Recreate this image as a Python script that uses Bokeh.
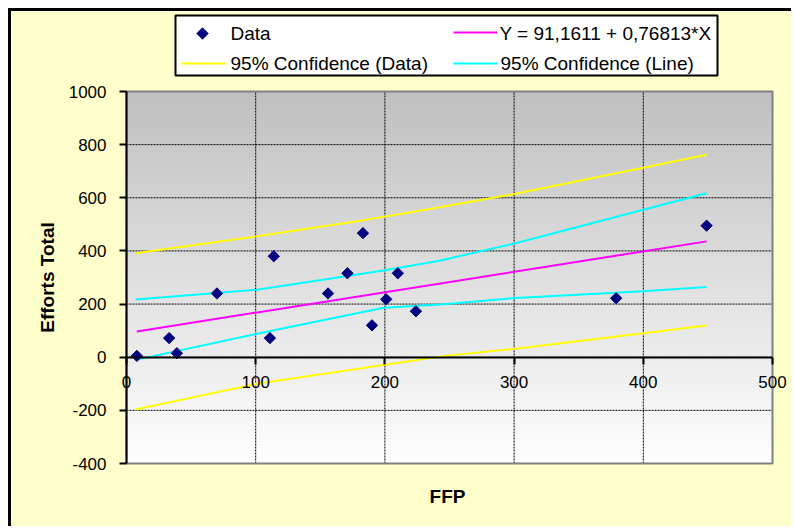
import numpy as np
from bokeh.plotting import figure
from bokeh.models import Range1d, LinearAxis, FixedTicker
from bokeh.core.properties import value
from bokeh.embed import file_html
from bokeh.resources import INLINE

# ---- data ----
ffp = [8, 33, 39, 70, 111, 114, 156, 171, 183, 190, 201, 210, 224, 379, 449]
efforts = [5, 72, 15, 240, 72, 380, 240, 316, 467, 120, 218, 316, 173, 222, 495]

fit_x = [8, 449]
fit_y = [97, 436]

ci_data_up_x = [7, 101, 181, 228, 301, 400, 449]
ci_data_up_y = [391, 455, 514, 552, 615, 713, 762]
ci_data_lo_x = [7, 101, 199, 248, 301, 400, 449]
ci_data_lo_y = [-197, -100, -29, 6, 32, 90, 119]

ci_line_up_x = [7, 101, 199, 243, 301, 400, 449]
ci_line_up_y = [217, 254, 326, 364, 429, 555, 617]
ci_line_lo_x = [7, 101, 199, 243, 301, 400, 449]
ci_line_lo_y = [-10, 88, 186, 198, 223, 248, 264]

x_ticks = [0, 100, 200, 300, 400, 500]
x_tick_labels = ["0", "100", "200", "300", "400", "500"]
y_ticks = [-400, -200, 0, 200, 400, 600, 800, 1000]
y_tick_labels = ["-400", "-200", "0", "200", "400", "600", "800", "1000"]

x_title = "FFP"
y_title = "Efforts Total"
legend_labels = ["Data", "95% Confidence (Data)",
                 "Y = 91,1611 + 0,76813*X", "95% Confidence (Line)"]

FONT = "Liberation Sans"
C_PTS, C_FIT, C_CID, C_CIL = "#000080", "#FF00FF", "#FFFF00", "#00FFFF"

# ---- layout (canvas pixels) ----
CANVAS_W, CANVAS_H = 783, 518
PLOT_L, PLOT_R, PLOT_T, PLOT_B = 115, 761, 80, 452
X0, X1 = x_ticks[0], x_ticks[-1]
Y0, Y1 = y_ticks[0], y_ticks[-1]
sx = (PLOT_R - PLOT_L) / (X1 - X0)
sy = (PLOT_B - PLOT_T) / (Y1 - Y0)
x_start = X0 - PLOT_L / sx
x_end = X1 + (CANVAS_W - PLOT_R) / sx
y_end = Y1 + PLOT_T / sy
y_start = Y0 - (CANVAS_H - PLOT_B) / sy


def px_x(cx):
    return x_start + cx / sx


def px_y(cy):
    return y_end - cy / sy


p = figure(width=CANVAS_W, height=CANVAS_H,
           x_range=Range1d(x_start, x_end), y_range=Range1d(y_start, y_end),
           x_axis_location=None, y_axis_location=None,
           output_backend="svg", toolbar_location=None,
           min_border=0)
p.styles = {"margin-top": "8px", "margin-left": "8px",
            "border-top": "3px solid black", "border-left": "3px solid black"}
p.border_fill_color = "#FFFFCC"
p.background_fill_color = "#FFFFCC"
p.outline_line_color = None
p.grid.visible = False

# gradient background of the plot area (gray at top to white at bottom)
n = 372
img = np.empty((n, 1), dtype=np.uint32)
view = img.view(dtype=np.uint8).reshape((n, 1, 4))
vals = np.linspace(255, 192, n).astype(np.uint8)
view[:, 0, 0] = vals
view[:, 0, 1] = vals
view[:, 0, 2] = vals
view[:, 0, 3] = 255
p.image_rgba(image=[img], x=X0, y=Y0, dw=X1 - X0, dh=Y1 - Y0, level="image")

# grid lines limited to the plot area
p.segment(x0=x_ticks, y0=[Y0] * len(x_ticks), x1=x_ticks, y1=[Y1] * len(x_ticks),
          line_color="black", line_dash="2 1", line_width=1, level="underlay")
p.segment(x0=[X0] * len(y_ticks), y0=y_ticks, x1=[X1] * len(y_ticks), y1=y_ticks,
          line_color="black", line_dash="2 1", line_width=1, level="underlay")
# plot area border
p.quad(left=[X0], right=[X1], bottom=[Y0], top=[Y1], fill_color=None,
       line_color="#808080", line_width=2, level="underlay")

# y axis at x = 0
ya = LinearAxis(fixed_location=0, bounds=(Y0, Y1), ticker=FixedTicker(ticks=y_ticks),
                major_label_overrides=dict(zip(y_ticks, y_tick_labels)))
ya.axis_line_color = "black"
ya.axis_line_width = 2
ya.major_tick_line_width = 2
ya.major_tick_out = 7
ya.major_tick_in = 0
ya.minor_tick_out = 0
ya.minor_tick_in = 0
ya.major_label_standoff = 13
ya.major_label_text_font = FONT
ya.major_label_text_font_size = "17px"
ya.major_label_text_color = "black"
p.add_layout(ya, "left")

# x axis crossing at y = 0
xa = LinearAxis(fixed_location=0, bounds=(X0, X1), ticker=FixedTicker(ticks=x_ticks),
                major_label_overrides=dict(zip(x_ticks, x_tick_labels)))
xa.axis_line_color = "black"
xa.axis_line_width = 2
xa.major_tick_line_width = 2
xa.major_tick_out = 7
xa.major_tick_in = 0
xa.minor_tick_out = 0
xa.minor_tick_in = 0
xa.major_label_standoff = 12
xa.major_label_text_font = FONT
xa.major_label_text_font_size = "17px"
xa.major_label_text_color = "black"
p.add_layout(xa, "below")

# axis titles
p.text(x=[px_x(436)], y=[px_y(485)], text=[x_title], text_font=value(FONT),
       text_font_style="bold", text_font_size="19px", text_color="black",
       text_align="center", text_baseline="middle")
p.text(x=[px_x(36)], y=[px_y(266)], text=[y_title], text_font=value(FONT),
       text_font_style="bold", text_font_size="19px", text_color="black",
       text_align="center", text_baseline="middle", angle=np.pi / 2)

# series
p.line(ci_data_up_x, ci_data_up_y, color=C_CID, line_width=2)
p.line(ci_data_lo_x, ci_data_lo_y, color=C_CID, line_width=2)
p.line(ci_line_up_x, ci_line_up_y, color=C_CIL, line_width=2)
p.line(ci_line_lo_x, ci_line_lo_y, color=C_CIL, line_width=2)
p.line(fit_x, fit_y, color=C_FIT, line_width=2)
p.scatter(ffp, efforts, marker="square", angle=np.pi / 4, size=8, color=C_PTS)

# legend box (two columns, two rows) above the plot area
LG_L, LG_R, LG_T, LG_B = 164, 706, 4, 64
ROW1, ROW2 = 22, 52
p.quad(left=[px_x(LG_L)], right=[px_x(LG_R)], top=[px_y(LG_T)], bottom=[px_y(LG_B)],
       fill_color="white", line_color="black", line_width=2)
p.scatter(x=[px_x(191)], y=[px_y(ROW1)], marker="square", angle=np.pi / 4,
          size=8, color=C_PTS)
p.segment(x0=[px_x(170), px_x(442), px_x(442)],
          x1=[px_x(214), px_x(486), px_x(486)],
          y0=[px_y(ROW2), px_y(ROW1 - 1), px_y(ROW2)],
          y1=[px_y(ROW2), px_y(ROW1 - 1), px_y(ROW2)],
          line_color=[C_CID, C_FIT, C_CIL], line_width=2)
p.text(x=[px_x(219), px_x(219), px_x(488), px_x(489)],
       y=[px_y(ROW1), px_y(ROW2), px_y(ROW1), px_y(ROW2)],
       text=legend_labels, text_font=value(FONT), text_font_size="19px",
       text_color="black", text_align="left", text_baseline="middle")

open("out.html", "w").write(file_html(p, INLINE))
